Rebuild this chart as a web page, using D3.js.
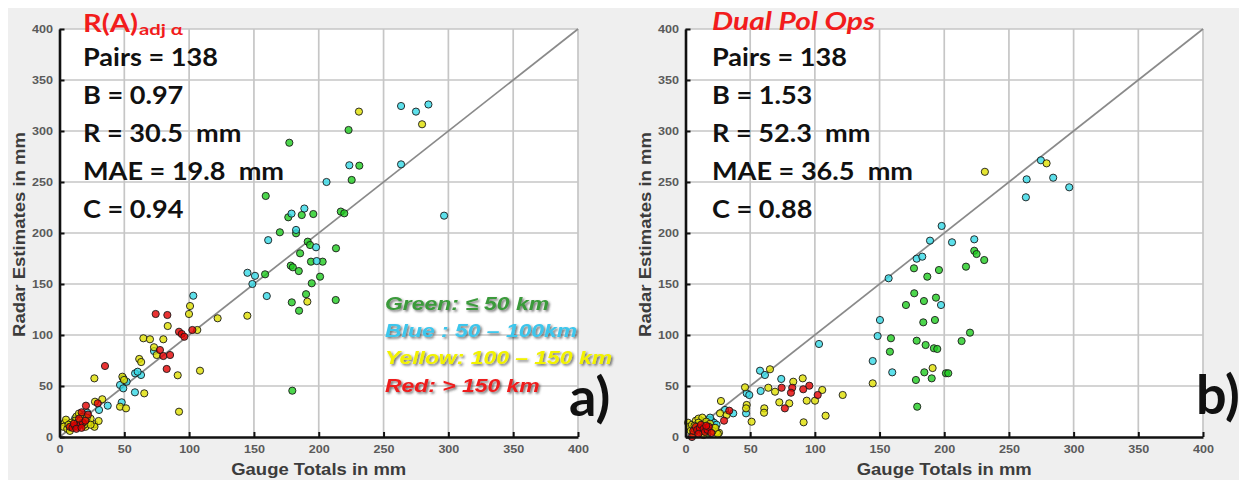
<!DOCTYPE html>
<html><head><meta charset="utf-8">
<script src="https://cdn.jsdelivr.net/npm/d3@7"></script>
<style>html,body{margin:0;padding:0;background:#fff;} svg{display:block;} text{white-space:pre;}</style>
</head><body>
<svg id="chart" width="1239" height="480"></svg>
<script>
// ---------- DATA ----------
const xTickVals = [0, 50, 100, 150, 200, 250, 300, 350, 400];
const yTickVals = [0, 50, 100, 150, 200, 250, 300, 350, 400];
const xAxisTitle = "Gauge Totals in mm";
const yAxisTitle = "Radar Estimates in mm";

const leftStats = ["Pairs = 138", "B = 0.97", "R = 30.5  mm", "MAE = 19.8  mm", "C = 0.94"];
const rightStats = ["Pairs = 138", "B = 1.53", "R = 52.3  mm", "MAE = 36.5  mm", "C = 0.88"];
const legendLabels = ["Green: \u2264 50 km", "Blue : 50 \u2013 100km", "Yellow: 100 \u2013 150 km", "Red: > 150 km"];

// [gauge total, radar estimate] in mm
const leftGreen = [[195.8,218.6],[186.9,217.6],[217,221],[219.7,219.3],[223,301],[231.3,266],[225.4,252],[177.3,288.5],[159.1,236.3],[176.5,215.4],[170,200.7],[182.5,199.7],[191.5,191.5],[193.3,188.2],[213.3,185],[185.6,180.1],[194,171.9],[203,171.9],[178.4,168],[180,166.4],[184.6,162.7],[158.6,159.5],[201,157.2],[194.6,150.7],[179.2,132],[190.2,140],[184.8,123.8],[213.1,134.3],[179.6,45.4]];
const leftCyan = [[263.5,324.5],[275,319],[284.6,326],[223.6,266.4],[263.5,267.3],[206,250],[296.7,217],[188.9,224],[179,219],[182.5,203],[161,193],[197.9,186],[198.4,172.5],[145,161],[150.8,158],[148.8,150],[103.2,138.5],[159.9,138.2],[72.9,84.3],[62.9,60.8],[49.2,57.5],[51.8,54.2],[46.7,51],[49.2,47.7],[58.3,62.4],[60.3,64],[58.2,43.8],[48,34],[37.2,30.7],[30.5,26.5],[21.4,23.8],[18,22],[12,18]];
const leftYellow = [[231,319],[279.7,306.6],[191.2,132.7],[100.7,128.4],[99.9,120.6],[144.9,118.9],[122,116.4],[83.5,108.8],[106.3,104.9],[64.7,96.8],[69.8,95.8],[80.1,95.8],[72.9,88],[75,80.4],[61.5,76.5],[63,73.5],[91.2,60.5],[108.4,65],[65.4,42.8],[92.2,24.8],[26.9,57.5],[48.5,59.1],[49.8,55.9],[46.7,29.7],[51.3,28.1],[27.4,34.6],[33,37],[26.9,12.5],[30.2,15.7],[4,14],[3,10],[6,8],[8,6],[5,17],[10,12],[13,20],[15,23],[18,20],[22,14],[24,18],[27,10],[20,10],[12,16],[9,14],[14,14],[19,12],[24,12],[16,16],[21,19],[7,12]];
const leftRed = [[74.2,120.6],[83.2,119.6],[92.2,103.2],[94.3,101],[96.3,98.3],[102.5,104.9],[77.5,85.3],[80.1,79.4],[85.3,80.4],[82.7,66.7],[35.1,69.6],[29.5,33],[20.4,30.7],[17.1,24.2],[8,10],[10,9],[12,11],[14,10],[16,12],[18,14],[20,16],[15,18],[11,13],[22,22],[13,8],[17,9]];

const rightGreen = [[223.2,182.6],[225,179.4],[230.9,173.5],[216.8,167],[176.6,165.4],[195.9,163.7],[186.9,157.2],[176.8,140.9],[170.4,129.4],[184.3,133.3],[193.6,136.6],[183.8,112.4],[192.8,114.7],[158.8,96.8],[178.7,94.4],[185.6,90.2],[192,87],[194.6,86.3],[213.4,94.1],[219.9,102.3],[158,83.6],[184.6,63.4],[201.3,62.5],[203.1,62.5],[178.1,55.9],[190.3,57.5],[179.1,29.7],[12,16],[15,14],[18,17],[20,12],[9,12],[13,10],[17,3]];
const rightCyan = [[274.7,271.3],[263.7,252.6],[284.2,254.2],[296.6,244.8],[263.1,235],[198,206.9],[189,192.5],[206,190.9],[223.2,193.8],[178.7,174.8],[183,176.8],[157,155.6],[197.5,129.4],[150.3,114.7],[148.5,99],[144.7,74.5],[159.8,63.4],[103.2,91.2],[57.6,65],[61.4,60.8],[74,56.9],[47.3,42.8],[49.3,41.2],[58.1,45.1],[46.8,23.2],[30.5,26.5],[36.9,23.2],[20,16],[22,14],[24,12],[19,19],[14,11]];
const rightYellow = [[231.4,260],[279.1,268.3],[191,67.6],[144.7,52.6],[121.5,41.2],[65.3,66.4],[46,48.7],[64,48.3],[69.2,44.4],[83.3,54.2],[90.6,57.5],[93.7,35.6],[100.1,35.6],[105.7,46.1],[108.3,20.9],[91.3,14.4],[80.2,33],[72.5,34],[60.9,28.1],[60.7,23.8],[47.3,31.4],[46.8,28.1],[51.1,15],[27.4,35.3],[26.7,23.2],[31.8,21.6],[25.9,4.2],[2,14],[3,10],[4,6],[5,12],[6,3],[8,16],[10,18],[13,19],[16,15],[19,13],[22,9],[24,5],[25,3],[7,8],[11,5],[14,2],[10,14],[13,6],[16,9],[19,8],[21,6],[23,9],[7,11]];
const rightRed = [[74.3,48.3],[82.5,48.3],[81.5,43.4],[91,46.8],[95.7,50.3],[102.2,41.2],[76.8,28.1],[33.8,25.8],[29.8,16],[5,0],[6,6],[8,10],[9,7],[11,9],[12,12],[14,8],[15,5],[17,7],[18,10],[20,4],[10,3],[16,11]];

// ---------- STYLE / LAYOUT ----------
const COLORS = {green:"#1fcc1f", cyan:"#35d8e6", yellow:"#dede00", red:"#e40000"};
const LEGEND_COLORS = ["#3a9a3a", "#3cc6ec", "#f2f200", "#ee1c1c"];
const Y_BOTTOM = 437, Y_TOP = 29;

const svg = d3.select("#chart");
const defs = svg.append("defs");
const f = defs.append("filter").attr("id","shadow").attr("x","-10%").attr("y","-40%").attr("width","130%").attr("height","180%");
f.append("feDropShadow").attr("dx",1.6).attr("dy",1.6).attr("stdDeviation",0.9).attr("flood-color","#333").attr("flood-opacity",0.7);

svg.append("rect").attr("x",8).attr("y",8).attr("width",1231).attr("height",472).attr("fill","#efefef");

const panels = [
  {x0:59.5, x1:578, green:leftGreen, cyan:leftCyan, yellow:leftYellow, red:leftRed, stats:leftStats, textX:83, tag:"a)", tagX:569, tagY:416, title:"left"},
  {x0:685.5, x1:1203, green:rightGreen, cyan:rightCyan, yellow:rightYellow, red:rightRed, stats:rightStats, textX:712, tag:"b)", tagX:1196, tagY:414, title:"right"}
];

function stretch(sel, factor) {
  sel.each(function(){
    const w = this.getComputedTextLength();
    d3.select(this).attr("textLength", w*factor).attr("lengthAdjust","spacingAndGlyphs");
  });
}

panels.forEach(p => {
  const x = d3.scaleLinear().domain([0,400]).range([p.x0, p.x1]);
  const y = d3.scaleLinear().domain([0,400]).range([Y_BOTTOM, Y_TOP]);
  const g = svg.append("g");

  g.append("rect").attr("x", x(0)).attr("y", y(400)).attr("width", x(400)-x(0)).attr("height", y(0)-y(400)).attr("fill","#fff");

  // grid
  g.selectAll(".vg").data(xTickVals.filter(v=>v>0)).join("line")
    .attr("x1", d=>x(d)).attr("x2", d=>x(d)).attr("y1", y(0)).attr("y2", y(400))
    .attr("stroke","#c6c6c6").attr("stroke-width",1.7);
  g.selectAll(".hg").data(yTickVals.filter(v=>v>0)).join("line")
    .attr("x1", x(0)).attr("x2", x(400)).attr("y1", d=>y(d)).attr("y2", d=>y(d))
    .attr("stroke","#c6c6c6").attr("stroke-width",1.7);

  // 1:1 line
  g.append("line").attr("x1", x(0)).attr("y1", y(0)).attr("x2", x(400)).attr("y2", y(400))
    .attr("stroke","#8a8a8a").attr("stroke-width",1.7);

  // stats text
  const st = g.selectAll(".stat").data(p.stats).join("text")
    .attr("x", p.textX).attr("y", (d,i)=>66 + i*38)
    .attr("font-family","Lato, 'Open Sans', sans-serif").attr("font-weight","bold").attr("font-size",24)
    .attr("fill","#111").text(d=>d);
  const w0 = st.node().getComputedTextLength();
  stretch(st, 135 / w0);

  // title
  if (p.title === "left") {
    g.append("text").attr("x", p.textX).attr("y", 32)
      .attr("font-family","Lato, sans-serif").attr("font-weight","bold").attr("font-size",24)
      .attr("fill","#f21c1c").text("R(A)")
      .attr("textLength",55).attr("lengthAdjust","spacingAndGlyphs");
    g.append("text").attr("x", p.textX+56).attr("y", 35)
      .attr("font-family","Lato, sans-serif").attr("font-weight","bold").attr("font-size",15)
      .attr("fill","#f21c1c").text("adj \u03b1")
      .attr("textLength",44).attr("lengthAdjust","spacingAndGlyphs");
  } else {
    g.append("text").attr("x", p.textX).attr("y", 30)
      .attr("font-family","Lato, sans-serif").attr("font-weight","bold").attr("font-style","italic").attr("font-size",24)
      .attr("fill","#f21c1c").text("Dual Pol Ops")
      .attr("textLength",163).attr("lengthAdjust","spacingAndGlyphs");
  }

  // points
  const groups = [["green", p.green], ["cyan", p.cyan], ["yellow", p.yellow], ["red", p.red]];
  groups.forEach(([c, arr]) => {
    g.append("g").selectAll("circle").data(arr).join("circle")
      .attr("cx", d=>x(d[0])).attr("cy", d=>y(d[1])).attr("r", 3.6)
      .attr("fill", COLORS[c]).attr("fill-opacity", 0.8)
      .attr("stroke","#1a1a1a").attr("stroke-width",0.9);
  });

  // axes
  const ax = g.append("g").attr("transform", `translate(0,${Y_BOTTOM})`)
    .call(d3.axisBottom(x).tickValues(xTickVals).tickSizeInner(-5).tickSizeOuter(0).tickPadding(0));
  const ay = g.append("g").attr("transform", `translate(${p.x0},0)`)
    .call(d3.axisLeft(y).tickValues(yTickVals).tickSizeInner(-5).tickSizeOuter(0).tickPadding(6.5));
  [ax, ay].forEach(a => {
    a.select(".domain").attr("stroke","#111").attr("stroke-width",2.6);
    a.selectAll(".tick line").attr("stroke","#111").attr("stroke-width",2);
    a.selectAll(".tick text").attr("font-family","'Liberation Sans', Arial, sans-serif").attr("font-weight","bold")
      .attr("font-size",10).attr("fill","#5a5a5a")
      .attr("textLength", d => String(d).length*7).attr("lengthAdjust","spacingAndGlyphs");
  });
  ax.selectAll(".tick text").attr("y",16).attr("dy",0);

  // axis titles
  g.append("text").attr("x", (p.x0+p.x1)/2).attr("y", 475).attr("text-anchor","middle")
    .attr("font-family","'Liberation Sans', Arial, sans-serif").attr("font-weight","bold").attr("font-size",17)
    .attr("fill","#3c3c3c").text(xAxisTitle).attr("textLength",175).attr("lengthAdjust","spacingAndGlyphs");
  g.append("text").attr("transform", `translate(${p.x0-35},234.5) rotate(-90)`).attr("text-anchor","middle")
    .attr("font-family","'Liberation Sans', Arial, sans-serif").attr("font-weight","bold").attr("font-size",17)
    .attr("fill","#3c3c3c").text(yAxisTitle).attr("textLength",205).attr("lengthAdjust","spacingAndGlyphs");

  // panel tag
  g.append("text").attr("x", p.tagX).attr("y", p.tagY)
    .attr("font-family","Lato, sans-serif").attr("font-weight","bold").attr("font-size",54)
    .attr("fill","#111").text(p.tag);

  // legend (left panel only)
  if (p.title === "left") {
    const lg = g.selectAll(".lg").data(legendLabels).join("text")
      .attr("x", 385).attr("y", (d,i)=>[310,337,364,392][i])
      .attr("font-family","'Liberation Sans', Arial, sans-serif").attr("font-weight","bold").attr("font-style","italic")
      .attr("font-size",19).attr("fill",(d,i)=>LEGEND_COLORS[i]).attr("filter","url(#shadow)").text(d=>d);
    const wy = lg.filter((d,i)=>i===2).node().getComputedTextLength();
    stretch(lg, 227 / wy);
  }
});
</script>
</body></html>
